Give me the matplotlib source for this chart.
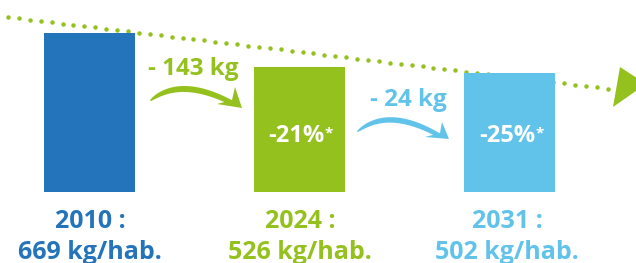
import numpy as np
import matplotlib.pyplot as plt
from matplotlib.patches import Polygon

# ---- data ----
years = ["2010", "2024", "2031"]
values = [669, 526, 502]          # kg/hab.
reductions = ["- 143 kg", "- 24 kg"]
pct_labels = ["", "-21%", "-25%"]
colors = ["#2474BB", "#95C11F", "#62C3EA"]

W, H = 636, 263
FONT = "Open Sans"

fig = plt.figure(figsize=(W / 100, H / 100), dpi=100)

# bar axes: x in pixels, y in kg with baseline at pixel row 192
ax = fig.add_axes([0, 0, 1, 1])
px_per_kg = 159 / 669
base_px = 192
ax.set_xlim(0, W)
ax.set_ylim(-(H - base_px) / px_per_kg, base_px / px_per_kg)
ax.axis("off")

# overlay axes in pixel coordinates (y downward)
ov = fig.add_axes([0, 0, 1, 1], facecolor="none")
ov.set_xlim(0, W)
ov.set_ylim(H, 0)
ov.axis("off")

centers = [89.5, 299.5, 509.5]
ax.bar(centers, values, width=91, color=colors, zorder=2)

green = colors[1]
# dotted trend line (behind bars)
xs = np.linspace(8, 608, 56)
ys = 17 + (xs - 8) * (88.5 - 17) / 600
ax.plot(xs, ys, "o", ms=3.2, color=green, mec="none", transform=ov.transData, zorder=1)
ax.add_patch(Polygon([(620, 67), (613, 107), (646, 84)], closed=True, fc=green, ec="none",
                     transform=ov.transData, zorder=1))


def brush(p0, p1, p2, wmax, head, color):
    p0, p1, p2 = map(np.array, (p0, p1, p2))
    t = np.linspace(0, 1, 80)[:, None]
    B = (1 - t) ** 2 * p0 + 2 * (1 - t) * t * p1 + t ** 2 * p2
    D = 2 * (1 - t) * (p1 - p0) + 2 * t * (p2 - p1)
    n = np.column_stack([-D[:, 1], D[:, 0]])
    n /= np.linalg.norm(n, axis=1)[:, None]
    tt = t[:, 0]
    w = np.sqrt(tt) * (1 - 0.6 * tt)
    w = wmax * w / w.max() / 2
    upper = B - n * w[:, None]
    lower = B + n * w[:, None]
    pts = np.vstack([upper, lower[::-1]])
    ov.add_patch(Polygon(pts, closed=True, fc=color, ec="none"))
    ov.add_patch(Polygon(head, closed=True, fc=color, ec="none"))


brush((150, 101), (180, 76), (232, 103), 6,
      [(242, 108), (235, 87), (232, 100), (217, 104)], green)
brush((357, 132), (388, 106), (440, 136), 5.5,
      [(449, 139), (442, 122), (440, 133), (425, 137)], colors[2])

# reduction labels
ov.text(193, 75, reductions[0], color=green, fontsize=17.5, fontweight="bold",
        family=FONT, ha="center", va="baseline")
ov.text(408, 106, reductions[1], color=colors[2], fontsize=17.5, fontweight="bold",
        family=FONT, ha="center", va="baseline")

# percentage labels inside bars
pct_x = [None, 296, 507]
for i in (1, 2):
    t = ov.text(pct_x[i], 142.5, pct_labels[i], color="white", fontsize=17,
                fontweight="bold", family=FONT, ha="center", va="baseline")
    ov.annotate("*", xy=(1, 0.93), xycoords=t, color="white", fontsize=11,
                fontweight="bold", family=FONT, ha="left", va="top")

# bottom labels
label_x = [90, 300, 507]
for i in range(3):
    ov.text(label_x[i], 228, f"{years[i]} :", color=colors[i], fontsize=18,
            fontweight="bold", family=FONT, ha="center", va="baseline")
    ov.text(label_x[i], 259, f"{values[i]} kg/hab.", color=colors[i], fontsize=18,
            fontweight="bold", family=FONT, ha="center", va="baseline")

fig.savefig("out.png", dpi=100)
